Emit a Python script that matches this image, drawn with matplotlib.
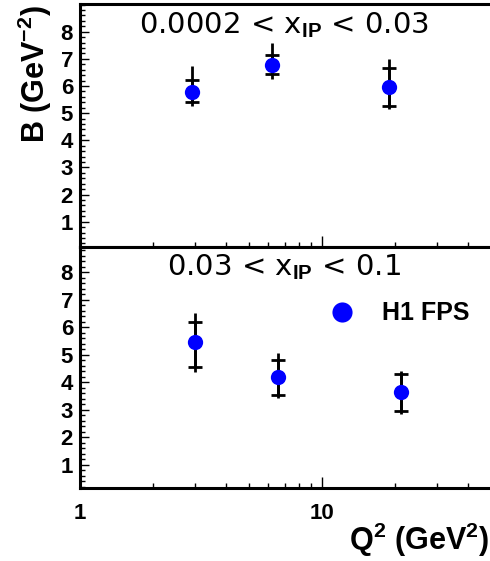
import matplotlib
matplotlib.use('Agg')
import matplotlib.pyplot as plt
from matplotlib.lines import Line2D
from matplotlib.ticker import MultipleLocator

plt.rcParams['font.family'] = ['Liberation Sans', 'DejaVu Sans']
plt.rcParams['font.weight'] = 'bold'
plt.rcParams['xtick.labelsize'] = 16
plt.rcParams['ytick.labelsize'] = 16
plt.rcParams['mathtext.fontset'] = 'custom'
plt.rcParams['mathtext.rm'] = 'Liberation Sans'
plt.rcParams['mathtext.bf'] = 'Liberation Sans:bold'
plt.rcParams['mathtext.it'] = 'Liberation Sans:italic'

# ---------------- data ----------------
# upper panel: 0.0002 < x_IP < 0.03
q2_a = [2.9, 6.2, 18.9]
b_a = [5.79, 6.79, 5.97]
stat_up_a = [0.43, 0.36, 0.71]
stat_dn_a = [0.38, 0.36, 0.71]
tot_up_a = [0.95, 0.78, 1.04]
tot_dn_a = [0.53, 0.54, 0.83]

# lower panel: 0.03 < x_IP < 0.1
q2_b = [2.99, 6.6, 21.2]
b_b = [5.46, 4.19, 3.64]
stat_up_b = [0.75, 0.62, 0.67]
stat_dn_b = [0.89, 0.65, 0.67]
tot_up_b = [1.07, 0.87, 0.77]
tot_dn_b = [1.07, 0.77, 0.79]

title_a = r'0.0002 < x$_{\mathbf{IP}}$ < 0.03'
title_b = r'0.03 < x$_{\mathbf{IP}}$ < 0.1'
series_label = 'H1 FPS'

x_tick_vals = [1, 10]
x_tick_labels = ['1', '10']
x_minor_vals = [2, 3, 4, 5, 6, 7, 8, 9, 20, 30, 40, 50]
y_tick_vals = [1, 2, 3, 4, 5, 6, 7, 8]
y_tick_labels = ['1', '2', '3', '4', '5', '6', '7', '8']

# ---------------- layout ----------------
W, H = 490, 561
fig = plt.figure(figsize=(W / 100, H / 100), dpi=100)
fig.patch.set_facecolor('white')

xr_px = 415.3
ax1 = fig.add_axes([80 / W, (H - 247) / H, xr_px / W, 243 / H])
ax2 = fig.add_axes([80 / W, (H - 488.3) / H, xr_px / W, 241.3 / H])

for ax, q2, b, su, sd, tu, td, ylim, title in [
    (ax1, q2_a, b_a, stat_up_a, stat_dn_a, tot_up_a, tot_dn_a, (0.07, 9.02), title_a),
    (ax2, q2_b, b_b, stat_up_b, stat_dn_b, tot_up_b, tot_dn_b, (0.15, 8.92), title_b),
]:
    ax.set_xscale('log')
    ax.set_xlim(1, 52)
    ax.set_ylim(*ylim)
    ax.errorbar(q2, b, yerr=[td, tu], fmt='none', ecolor='black',
                elinewidth=2.0, capsize=0, zorder=3)
    ax.errorbar(q2, b, yerr=[sd, su], fmt='none', ecolor='black',
                elinewidth=2.0, capsize=5.2, capthick=2.0, zorder=3)
    ax.plot(q2, b, 'o', color='blue', markersize=11, markeredgewidth=0,
            zorder=5)
    ax.set_xticks(x_tick_vals, x_tick_labels)
    ax.set_xticks(x_minor_vals, minor=True)
    ax.xaxis.set_minor_formatter(plt.NullFormatter())
    ax.set_yticks(y_tick_vals, y_tick_labels)
    ax.yaxis.set_minor_locator(MultipleLocator(0.2))
    ax.tick_params(which='both', direction='in', left=True, bottom=True,
                   top=False, right=False, color='black', width=1.0)
    ax.tick_params(axis='x', which='major', length=8, pad=10.5, labelsize=16)
    ax.tick_params(axis='x', which='minor', length=3.5)
    ax.tick_params(axis='y', which='major', length=6.5, pad=5.0, labelsize=16)
    ax.tick_params(axis='y', which='minor', length=3.5)
    for s in ['left', 'top', 'bottom']:
        ax.spines[s].set_linewidth(2.2)
    ax.spines['right'].set_visible(False)
    ax.text(0.491, 0.915, title, transform=ax.transAxes, ha='center',
            va='center', fontsize=21, family='DejaVu Sans', weight='normal')

ax1.tick_params(labelbottom=False)

ax1.set_ylabel(r'B (GeV$^{\mathbf{-2}}$)', family='Liberation Sans',
               weight='bold', fontsize=22, rotation=90,
               ha='right', va='center', rotation_mode='anchor')
ax1.yaxis.set_label_coords((35 - 80) / xr_px, (247 - 5) / 243)

ax2.set_xlabel(r'Q$^{\mathbf{2}}$ (GeV$^{\mathbf{2}}$)', family='Liberation Sans',
               weight='bold', fontsize=22, ha='right', va='center')
ax2.xaxis.set_label_coords((489 - 80) / xr_px, (488.3 - 540) / 241.3)

handle = Line2D([], [], marker='o', ls='none', color='blue',
                markersize=14.5, markeredgewidth=0)
ax2.legend([handle], [series_label], loc='center left',
           bbox_to_anchor=(330 / W, 1 - 313.3 / H),
           bbox_transform=fig.transFigure, frameon=False,
           prop=dict(family='Liberation Sans', weight='bold', size=18),
           handlelength=0.94, handletextpad=1.12, borderpad=0,
           borderaxespad=0)

fig.savefig('out.png', dpi=100, facecolor='white')
